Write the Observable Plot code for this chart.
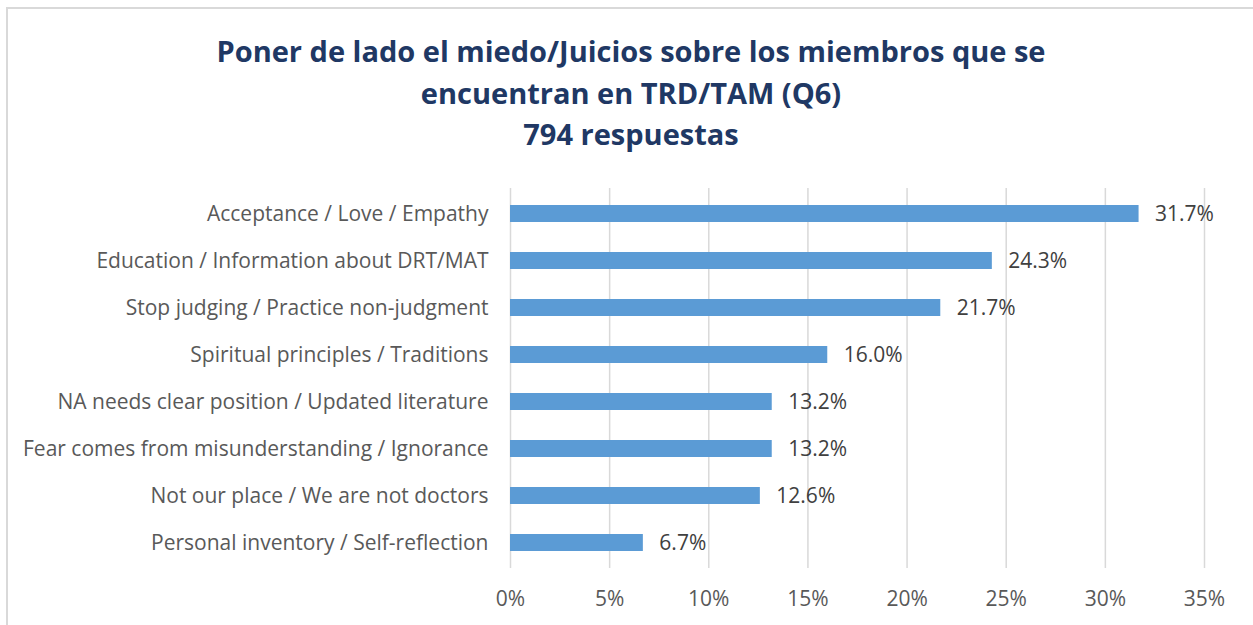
<!DOCTYPE html>
<html>
<head>
<meta charset="utf-8">
<script src="https://cdn.jsdelivr.net/npm/d3@7"></script>
<script src="https://cdn.jsdelivr.net/npm/@observablehq/plot@0.6"></script>
<style>
  body { margin: 0; background: #fff; }
  #wrap { position: relative; width: 1253px; height: 625px; overflow: hidden; background: #fff; }
  #frame { position: absolute; left: 6px; top: 7px; width: 1260px; height: 640px; border: 2px solid #d9d9d9; box-sizing: border-box; }
  #title { position: absolute; left: 0; top: 30px; width: 1262px; text-align: center; font-family: "Open Sans", sans-serif; font-weight: bold; font-size: 29px; line-height: 41.5px; color: #203864; }
  #chart { position: absolute; left: 0; top: 170px; }
</style>
</head>
<body>
<div id="wrap">
  <div id="frame"></div>
  <div id="title">Poner de lado el miedo/Juicios sobre los miembros que se<br>encuentran en TRD/TAM (Q6)<br>794 respuestas</div>
  <div id="chart"></div>
</div>
<script>
const categories = [
  "Acceptance / Love / Empathy",
  "Education / Information about DRT/MAT",
  "Stop judging / Practice non-judgment",
  "Spiritual principles / Traditions",
  "NA needs clear position / Updated literature",
  "Fear comes from misunderstanding / Ignorance",
  "Not our place / We are not doctors",
  "Personal inventory / Self-reflection"
];
const values = [31.7, 24.3, 21.7, 16.0, 13.2, 13.2, 12.6, 6.7];
const xTicks = [0, 5, 10, 15, 20, 25, 30, 35];

const data = categories.map((c, i) => ({category: c, value: values[i]}));

const chart = Plot.plot({
  width: 1253,
  height: 455,
  marginLeft: 510,
  marginRight: 49,
  marginTop: 18,
  marginBottom: 57,
  style: {fontFamily: "Open Sans, sans-serif", fontSize: "21px", color: "#595959", background: "transparent"},
  x: {domain: [0, 35], ticks: xTicks, tickFormat: d => d + "%", label: null},
  y: {domain: categories, paddingInner: 0.64, paddingOuter: 0.32, label: null},
  marks: [
    Plot.gridX(xTicks, {stroke: "#d9d9d9", strokeOpacity: 1, strokeWidth: 1.5}),
    Plot.barX(data, {x: "value", y: "category", fill: "#5B9BD5"}),
    Plot.text(data, {x: "value", y: "category", text: d => d.value.toFixed(1) + "%", textAnchor: "start", dx: 16, fill: "#404040", fontSize: 21}),
    Plot.axisX({ticks: xTicks, tickFormat: d => d + "%", tickSize: 0, tickPadding: 23, label: null, fontSize: 21, fill: "#595959"}),
    Plot.axisY({tickSize: 0, tickPadding: 22, label: null, fontSize: 21, fill: "#595959"})
  ]
});
document.getElementById("chart").appendChild(chart);
</script>
</body>
</html>
